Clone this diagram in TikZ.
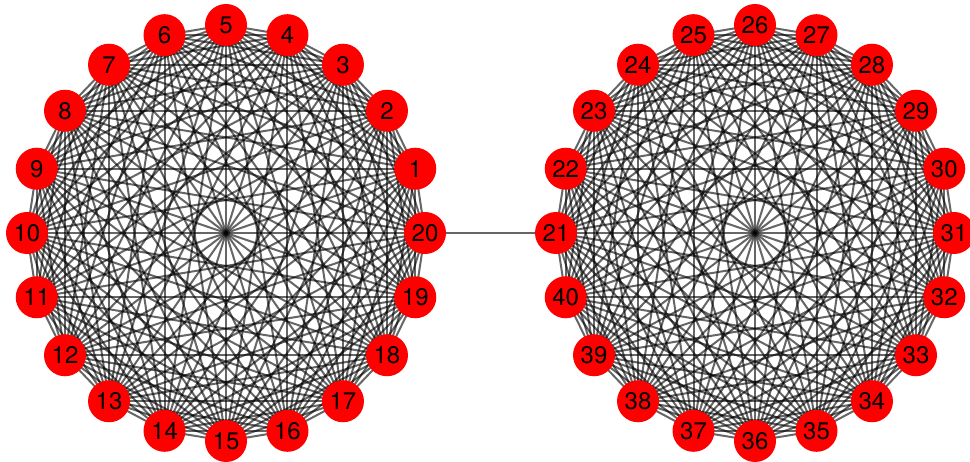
\documentclass[tikz,border=0pt]{standalone}
\usepackage{fontspec}
\setsansfont{TeX Gyre Heros}
\usetikzlibrary{backgrounds}
\tikzset{
    every node/.style={font=\sffamily\fontsize{24}{24}\selectfont},
    vertex/.style={circle, fill=red, minimum size=42pt, inner sep=0pt},
    edge/.style={draw=black, opacity=0.6, line width=2pt},
}
\begin{document}
\begin{tikzpicture}[x=1pt,y=1pt]
\useasboundingbox (0,0) rectangle (970,462);
% centres and radii of the two rings
\def\cxl{226}
\def\cxr{755}
\def\cy{229}
\def\rx{199}
\def\ry{208}
% left ring: 1..20
\foreach \k in {1,...,20}{
  \pgfmathsetmacro{\a}{18*\k}
  \node[vertex] (v\k) at ({\cxl+\rx*cos(\a)},{\cy+\ry*sin(\a)}) {\k};
}
% right ring: 21..40
\foreach \k in {21,...,40}{
  \pgfmathsetmacro{\a}{180-18*(\k-21)}
  \node[vertex] (v\k) at ({\cxr+\rx*cos(\a)},{\cy+\ry*sin(\a)}) {\k};
}
\begin{scope}[on background layer]
\foreach \i in {1,...,19}{
  \pgfmathtruncatemacro{\s}{\i+1}
  \foreach \j in {\s,...,20}{
    \draw[edge] (v\i.center) -- (v\j.center);
  }
}
\foreach \i in {21,...,39}{
  \pgfmathtruncatemacro{\s}{\i+1}
  \foreach \j in {\s,...,40}{
    \draw[edge] (v\i.center) -- (v\j.center);
  }
}
\draw[edge] (v20) -- (v21);
\end{scope}
\end{tikzpicture}
\end{document}
